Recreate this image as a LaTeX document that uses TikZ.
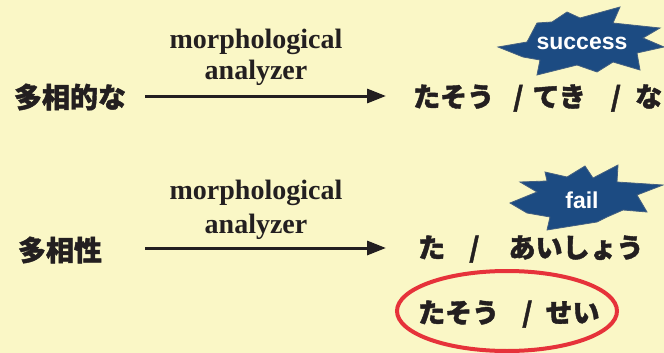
\documentclass[tikz,border=0pt]{standalone}
\usepackage{fontspec}
\setmainfont{Liberation Serif}
\newfontfamily\jpfont[BoldFeatures={FakeBold=1.5}]{Noto Sans CJK JP}
\newfontfamily\badgefont{Liberation Sans}
\usetikzlibrary{arrows.meta}
\definecolor{bgyellow}{HTML}{FAF7C6}
\definecolor{inkdark}{HTML}{231F20}
\definecolor{burstblue}{HTML}{1C4B82}
\definecolor{ringred}{HTML}{E6323A}
\tikzset{
  jpkanji/.style={inner sep=0pt, text=inkdark, font=\jpfont\bfseries\fontsize{28}{30}\selectfont},
  jpkana/.style={inner sep=0pt, text=inkdark, anchor=west, font=\jpfont\bfseries\fontsize{27}{29}\selectfont},
  label/.style={inner sep=0pt, text=inkdark, font=\bfseries\fontsize{28}{30}\selectfont},
  conn/.style={draw=inkdark, line width=3pt, -{Triangle[length=19pt,width=14pt]}},
  burst/.style={fill=burstblue, draw=burstblue!60!gray, line width=0.8pt},
  badge/.style={inner sep=0pt, text=white, font=\badgefont\bfseries\fontsize{23}{25}\selectfont},
  ring/.style={draw=ringred, line width=4pt}
}
\begin{document}
\begin{tikzpicture}[x=1pt,y=-1pt]
\useasboundingbox[fill=bgyellow] (0,0) rectangle (664,353);

% top row
\node[jpkanji] (src1) at (70,97) {多相的な};
\coordinate (a1s) at (145,96);
\coordinate (a1e) at (386,96);
\draw[conn] (a1s) -- (a1e);
\node[label] (lab1a) at (256,42) {morphological};
\node[label] (lab1b) at (256,73) {analyzer};
\node[jpkana] (res1) at (413,98) {たそう\hspace{19pt}/\hspace{9pt}てき\hspace{25pt}/\hspace{14pt}な};

\draw[burst] (498,47) -- (527,42) -- (537,23) -- (552,22) -- (567,12) -- (580,18)
  -- (620,7) -- (613,23) -- (660,28) -- (643,38) -- (664,47) -- (637,53)
  -- (640,70) -- (613,62) -- (597,72) -- (577,65) -- (537,75) -- (540,60)
  -- (523,57) -- cycle;
\node[badge] (succ) at (582,43) {success};

% bottom row
\node[jpkanji] (src2) at (60,250) {多相性};
\coordinate (a2s) at (145,248);
\coordinate (a2e) at (386,248);
\draw[conn] (a2s) -- (a2e);
\node[label] (lab2a) at (256,193) {morphological};
\node[label] (lab2b) at (256,227) {analyzer};
\node[jpkana] (res2) at (418,249) {た\hspace{24pt}/\hspace{29pt}あいしょう};

\draw[burst] (510,203) -- (537,192) -- (520,182) -- (547,181) -- (545,172)
  -- (567,177) -- (585,166) -- (593,178) -- (618,165) -- (617,182)
  -- (663,185) -- (637,195) -- (647,212) -- (623,210) -- (607,217)
  -- (597,222) -- (547,230) -- (550,217) -- (527,213) -- cycle;
\node[badge] (failb) at (582,200) {fail};

\node[jpkana] (res3) at (418,314) {たそう\hspace{23pt}/\hspace{13pt}せい};
\draw[ring] (507,311) ellipse [x radius=110, y radius=40];
\end{tikzpicture}
\end{document}
